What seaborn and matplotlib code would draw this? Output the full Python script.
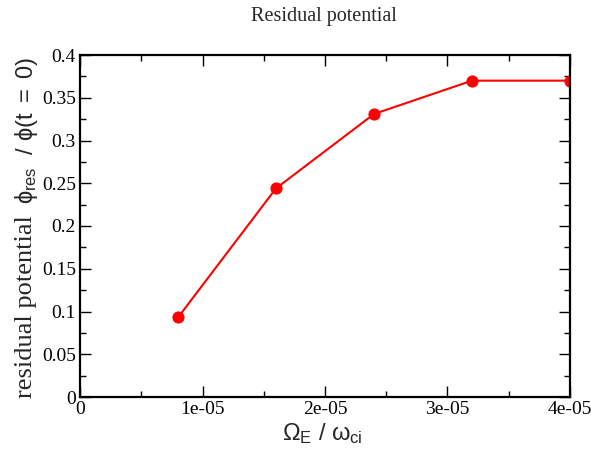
import matplotlib
matplotlib.use("Agg")
import matplotlib.pyplot as plt
import seaborn as sns
import pandas as pd
from matplotlib.ticker import MultipleLocator

omega_ratio = [8e-6, 1.6e-5, 2.4e-5, 3.2e-5, 4e-5]
phi_res = [0.093, 0.244, 0.331, 0.370, 0.370]
x_ticks = [0, 1e-5, 2e-5, 3e-5, 4e-5]
x_tick_labels = ["0", "1e-05", "2e-05", "3e-05", "4e-05"]
y_ticks = [0, 0.05, 0.1, 0.15, 0.2, 0.25, 0.3, 0.35, 0.4]
y_tick_labels = ["0", "0.05", "0.1", "0.15", "0.2", "0.25", "0.3", "0.35", "0.4"]

df = pd.DataFrame({"x": omega_ratio, "y": phi_res})

sns.set_theme(style="white")
plt.rcParams["font.family"] = ["Liberation Serif", "DejaVu Serif"]
plt.rcParams["mathtext.fontset"] = "custom"
plt.rcParams["mathtext.rm"] = "Liberation Sans"
plt.rcParams["mathtext.it"] = "Liberation Sans"
plt.rcParams["mathtext.sf"] = "Liberation Sans"

fig = plt.figure(figsize=(5.91, 4.57), dpi=100)
ax = fig.add_axes([80/591, 1-397/457, 490/591, 342/457])

sns.lineplot(data=df, x="x", y="y", ax=ax, color="#ff0000", linewidth=1.5,
             marker="o", markersize=8, markeredgecolor="#ff0000", markerfacecolor="#ff0000")

ax.set_xlim(0, 4e-5)
ax.set_ylim(0, 0.4)
ax.set_xticks(x_ticks)
ax.set_xticklabels(x_tick_labels)
ax.set_yticks(y_ticks)
ax.set_yticklabels(y_tick_labels)
ax.xaxis.set_minor_locator(MultipleLocator(5e-6))
ax.yaxis.set_minor_locator(MultipleLocator(0.025))
ax.tick_params(which="both", direction="in", top=True, right=True, bottom=True, left=True,
               color="black", labelsize=14, labelcolor="black", pad=3)
ax.tick_params(which="major", length=8, width=1)
ax.tick_params(which="minor", length=4, width=1)
for s in ax.spines.values():
    s.set_linewidth(1.6)
    s.set_color("black")
ax.set_xlabel("")
ax.set_ylabel("")

fig.text(322/591, 1-434/457, r"$\Omega_{\mathrm{E}}\ /\ \omega_{\mathrm{ci}}$", ha="center", va="center",
         fontsize=17)
fig.text(26/591, 1-307/457, "residual potential", rotation=90, ha="center", va="center",
         fontsize=19, family=["Liberation Serif"])
fig.text(27/591, 1-130/457, r"$\phi_{\mathrm{res}}\ \ /\ \phi(\mathrm{t\ =\ 0})$", rotation=90,
         ha="center", va="center", fontsize=17)
fig.text(324/591, 1-17/457, "Residual potential", ha="center", va="center", fontsize=14.5,
         family=["Liberation Serif"])

fig.savefig("out.png", dpi=100, facecolor="white")
